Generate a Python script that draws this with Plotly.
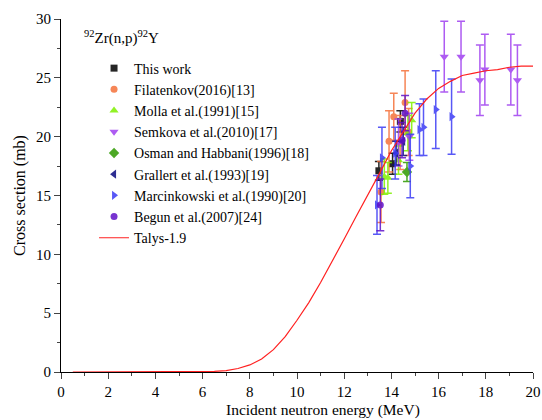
import plotly.graph_objects as go

# ---- data ----
this_E = [13.47, 14.05, 14.38]
this_S = [17.1, 17.7, 21.3]
this_err = [0.8, 0.9, 0.9]

fil_E = [13.56, 13.9, 14.1, 14.37, 14.58, 14.73]
fil_S = [15.3, 19.6, 21.7, 19.5, 22.9, 20.4]
fil_err = [2.6, 2.6, 2.0, 2.3, 2.7, 2.0]

mol_E = [13.7, 13.85, 14.3, 14.7, 14.86]
mol_S = [16.6, 16.5, 18.0, 20.3, 21.4]
mol_err = [1.5, 1.3, 1.2, 1.5, 1.5]

sem_E = [14.3, 14.76, 16.24, 16.95, 17.75, 17.96, 19.06, 19.34]
sem_S = [19.5, 20.0, 26.8, 26.8, 24.8, 25.7, 25.7, 24.8]
sem_err = [2.0, 2.0, 3.0, 3.0, 3.0, 3.0, 3.0, 3.0]

osm_E = [14.66]
osm_S = [17.0]
osm_err = [0.8]

gra_E = [14.2, 14.5]
gra_S = [18.6, 19.6]
gra_err = [1.0, 1.2]

mar_E = [13.39, 13.6, 14.16, 14.8, 15.19, 15.36, 15.88, 16.55]
mar_S = [14.2, 18.2, 18.6, 17.5, 20.6, 20.8, 22.3, 21.7]
mar_err = [2.5, 2.6, 2.2, 2.7, 2.2, 2.4, 3.3, 3.2]

beg_E = [13.53, 14.45, 14.58]
beg_S = [14.2, 19.7, 22.0]
beg_err = [2.2, 1.5, 1.5]

talys_E = [0.5, 1, 2, 3, 4, 5, 6, 6.5, 7, 7.5, 8, 8.5, 9, 9.5, 10, 10.5, 11, 11.5,
           12, 12.5, 13, 13.5, 14, 14.5, 15, 15.5, 16, 16.5, 17, 17.5, 18, 18.5,
           19, 19.5, 20]
talys_S = [0, 0, 0, 0, 0, 0, 0.01, 0.05, 0.12, 0.3, 0.6, 1.1, 1.9, 3.0, 4.4, 5.9,
           7.6, 9.4, 11.3, 13.2, 15.0, 16.9, 18.8, 20.4, 22.0, 23.2, 24.1, 24.7,
           25.2, 25.4, 25.6, 25.7, 25.9, 26.0, 26.0]

series = [
    ("This work", this_E, this_S, this_err, "#000000", "square", 7),
    ("Filatenkov(2016)[13]", fil_E, fil_S, fil_err, "#F5713A", "circle", 7),
    ("Molla et al.(1991)[15]", mol_E, mol_S, mol_err, "#7FF000", "triangle-up", 8),
    ("Semkova et al.(2010)[17]", sem_E, sem_S, sem_err, "#A040F0", "triangle-down", 8),
    ("Osman and Habbani(1996)[18]", osm_E, osm_S, osm_err, "#2E9A00", "diamond", 8),
    ("Grallert et al.(1993)[19]", gra_E, gra_S, gra_err, "#0A0A80", "triangle-left", 8),
    ("Marcinkowski et al.(1990)[20]", mar_E, mar_S, mar_err, "#3C3CF5", "triangle-right", 8),
    ("Begun et al.(2007)[24]", beg_E, beg_S, beg_err, "#6010C8", "circle", 7),
]

SERIF = "Liberation Serif, Times New Roman, serif"

fig = go.Figure()
for name, E, S, err, col, sym, sz in series:
    fig.add_trace(go.Scatter(
        x=E, y=S, mode="markers", name=name,
        marker=dict(symbol=sym, size=sz, color=col),
        error_y=dict(type="data", array=err, visible=True, color=col,
                     thickness=1.5, width=4),
        opacity=0.85,
    ))

fig.add_trace(go.Scatter(
    x=talys_E, y=talys_S, mode="lines", name="Talys-1.9",
    line=dict(color="#FF2020", width=1.2),
))

fig.add_annotation(
    text="<sup>92</sup>Zr(n,p)<sup>92</sup>Y", xref="paper", yref="paper",
    x=0.044, y=0.947, xanchor="left", yanchor="middle", showarrow=False,
    font=dict(family=SERIF, size=15, color="black"),
)
fig.add_annotation(
    text="Incident neutron energy (MeV)", xref="paper", yref="paper",
    x=0.555, y=-0.108, xanchor="center", yanchor="middle", showarrow=False,
    font=dict(family=SERIF, size=15.5, color="black"),
)

fig.update_layout(
    width=542, height=420,
    margin=dict(l=61, r=9, t=19, b=48),
    paper_bgcolor="white", plot_bgcolor="white",
    font=dict(family=SERIF, size=15, color="black"),
    showlegend=True,
    legend=dict(x=0.07, y=0.905, xanchor="left", yanchor="top",
                bgcolor="rgba(0,0,0,0)",
                font=dict(family=SERIF, size=14, color="black"),
                itemwidth=30, tracegroupgap=0),
    xaxis=dict(range=[0, 20], dtick=2, ticks="outside", ticklen=6,
               showline=True, linecolor="black", linewidth=1.2,
               showgrid=False, zeroline=False, automargin=False,
               tickfont=dict(family=SERIF, size=15, color="black"),
               minor=dict(dtick=1, ticks="outside", ticklen=3)),
    yaxis=dict(range=[0, 30], dtick=5, ticks="outside", ticklen=6,
               showline=True, linecolor="black", linewidth=1.2,
               showgrid=False, zeroline=False, automargin=False,
               tickfont=dict(family=SERIF, size=15, color="black"),
               minor=dict(dtick=2.5, ticks="outside", ticklen=3),
               title=dict(text="Cross section (mb)", standoff=6,
                          font=dict(family=SERIF, size=16, color="black"))),
)

fig.write_html("out.html")
